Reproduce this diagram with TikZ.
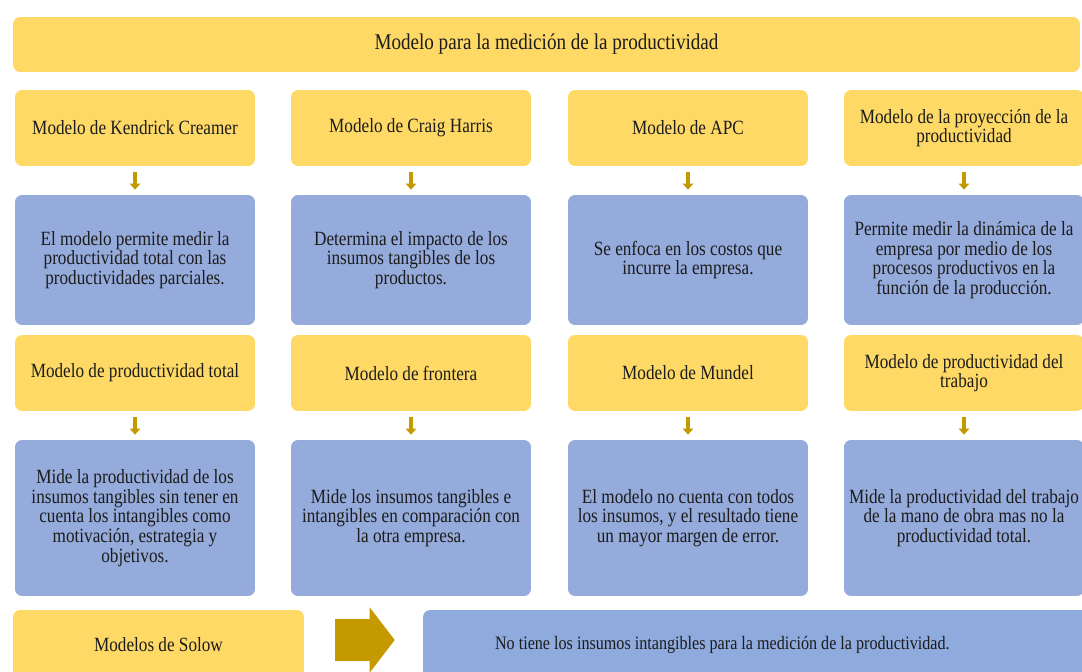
\documentclass[tikz,border=0pt]{standalone}
\usepackage{fontspec}
\setmainfont{Liberation Serif}[FakeStretch=0.85]
\usetikzlibrary{arrows.meta}
\definecolor{amarilloclaro}{HTML}{FFD966}
\definecolor{azulclaro}{HTML}{95ABDB}
\definecolor{azulfondo}{HTML}{8FAADC}
\definecolor{dorado}{HTML}{C49A00}
\definecolor{tinta}{HTML}{1C1C1C}

\newcommand{\bloque}[6]{
  % caja amarilla con el nombre del modelo
  \node[amarillo] (#4a) at (#1,#2) {#5};
  % caja azul con lo que hace
  \node[azul] (#4b) at (#1,#3) {#6};
  \draw[flechita] (#4a) -- (#4b);
}

\begin{document}
\begin{tikzpicture}[x=0.02cm,y=-0.02cm,
  amarillo/.style={fill=amarilloclaro, text=tinta, rounded corners=4pt, minimum width=4.8cm,
    minimum height=1.52cm, align=center, inner sep=2pt, font=\fontsize{11.5}{11.2}\selectfont},
  azul/.style={fill=azulclaro, text=tinta, rounded corners=4pt, minimum width=4.8cm,
    align=center, inner sep=2pt, font=\fontsize{11.5}{11.2}\selectfont},
  flechita/.style={draw=dorado, line width=2.6pt, -{Triangle[width=6pt,length=3.5pt]},
    shorten <=0.12cm, shorten >=0.1cm}]

  \useasboundingbox[fill=white] (0,0) rectangle (1082,672);

  \node[amarillo, minimum width=21.34cm, minimum height=1.1cm, font=\fontsize{12.8}{13}\selectfont]
    (titulo) at (546.5,44.5) {Modelo para la medición de la productividad};

  % primera fila
  \begin{scope}[azul/.append style={minimum height=2.6cm}]
    \bloque{135}{128}{260}{kendrick}{Modelo de Kendrick Creamer}
      {El modelo permite medir la\\ productividad total con las\\ productividades parciales.}
    \bloque{411}{128}{260}{craig}{Modelo de Craig Harris}
      {Determina el impacto de los\\ insumos tangibles de los\\ productos.}
    \bloque{688}{128}{260}{apc}{Modelo de APC}
      {Se enfoca en los costos que\\ incurre la empresa.}
    \bloque{964}{128}{260}{proyeccion}{Modelo de la proyección de la\\ productividad}
      {Permite medir la dinámica de la\\ empresa por medio de los\\ procesos productivos en la\\ función de la producción.}
  \end{scope}

  % segunda fila
  \begin{scope}[azul/.append style={minimum height=3.12cm}]
    \bloque{135}{373}{518}{total}{Modelo de productividad total}
      {Mide la productividad de los\\ insumos tangibles sin tener en\\ cuenta los intangibles como\\ motivación, estrategia y\\ objetivos.}
    \bloque{411}{373}{518}{frontera}{Modelo de frontera}
      {Mide los insumos tangibles e\\ intangibles en comparación con\\ la otra empresa.}
    \bloque{688}{373}{518}{mundel}{Modelo de Mundel}
      {El modelo no cuenta con todos\\ los insumos, y el resultado tiene\\ un mayor margen de error.}
    \bloque{964}{373}{518}{trabajo}{Modelo de productividad del\\ trabajo}
      {Mide la productividad del trabajo\\ de la mano de obra mas no la\\ productividad total.}
  \end{scope}

  % fila de abajo
  \node[amarillo, minimum width=5.82cm, minimum height=1.4cm] (solow) at (158.5,645)
    {Modelos de Solow};
  \node[azul, fill=azulfondo, minimum height=1.4cm, text width=10.46cm, inner xsep=1.44cm,
    align=flush left, font=\fontsize{10.8}{11}\selectfont] (insumos) at (756.5,645)
    {No tiene los insumos intangibles para la medición de la productividad.};

  \draw[dorado, line width=0.84cm, -{Triangle[width=1.28cm,length=0.5cm]},
    shorten <=0.62cm, shorten >=0.56cm] ([yshift=0.1cm]solow.east) -- ([yshift=0.1cm]insumos.west);

\end{tikzpicture}
\end{document}
